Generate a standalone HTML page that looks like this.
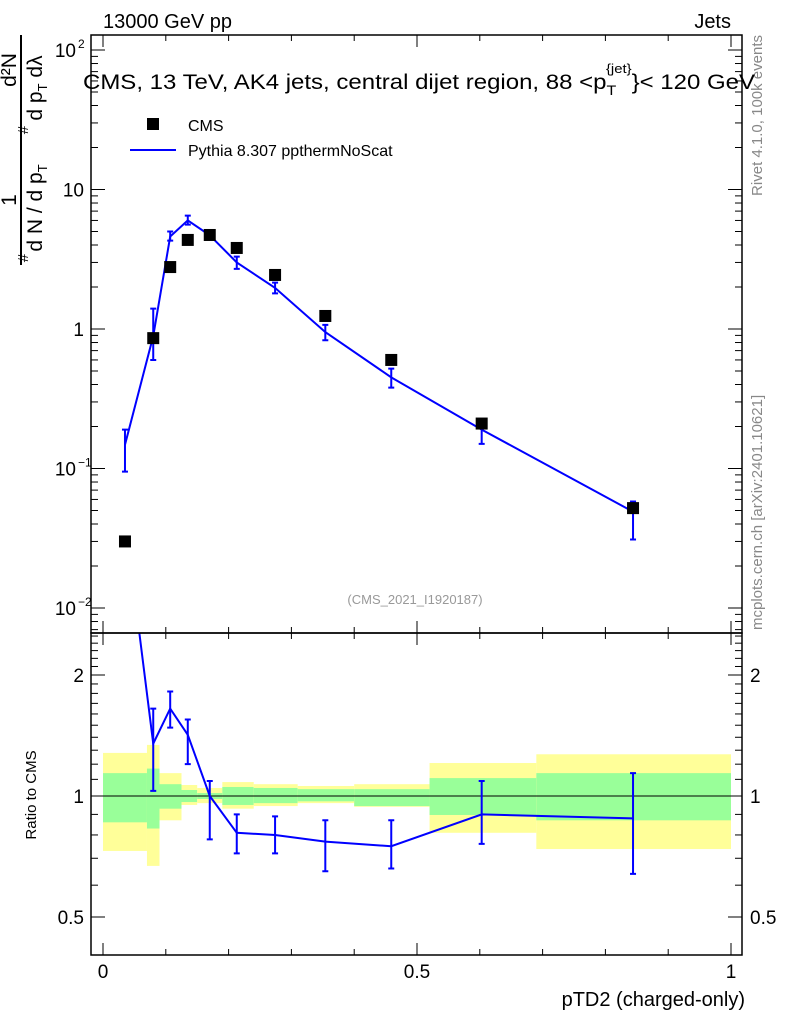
<!DOCTYPE html>
<html><head><meta charset="utf-8"><style>
body{margin:0;background:#fff}
svg{display:block;font-family:"Liberation Sans",sans-serif}
</style></head><body>
<svg id="c" width="786" height="1024" viewBox="0 0 786 1024">
<text x="103" y="28" font-size="20">13000 GeV pp</text>
<text x="731" y="28" font-size="20" text-anchor="end">Jets</text>
<g font-size="21">
<line x1="21" y1="35" x2="21" y2="265" stroke="#000" stroke-width="2"/>
<text transform="translate(16,200) rotate(-90)" text-anchor="middle">1</text>
<text transform="translate(42,208) rotate(-90)" text-anchor="middle">d N / d p<tspan font-size="13" dy="5">T</tspan></text>
<text transform="translate(28,258) rotate(-90)" text-anchor="middle" font-size="15">#</text>
<text transform="translate(16,70) rotate(-90)" text-anchor="middle">d²N</text>
<text transform="translate(42,88) rotate(-90)" text-anchor="middle">d p<tspan font-size="13" dy="5">T</tspan><tspan dy="-5"> dλ</tspan></text>
<text transform="translate(28,130) rotate(-90)" text-anchor="middle" font-size="15">#</text>
</g>
<text transform="translate(36,795) rotate(-90)" text-anchor="middle" font-size="15">Ratio to CMS</text>
<text x="745" y="1006" font-size="20" text-anchor="end">pTD2 (charged-only)</text>
<text transform="translate(762,35) rotate(-90)" text-anchor="end" font-size="15" fill="#888">Rivet 4.1.0, 100k events</text>
<text transform="translate(762,630) rotate(-90)" font-size="15" fill="#888">mcplots.cern.ch [arXiv:2401.10621]</text>
<text x="415" y="604" font-size="13" fill="#999" text-anchor="middle">(CMS_2021_I1920187)</text>
<text x="83" y="89" font-size="21" textLength="672" lengthAdjust="spacingAndGlyphs">CMS, 13 TeV, AK4 jets, central dijet region, 88 &lt;p<tspan font-size="14" dy="6">T</tspan><tspan font-size="13" dx="-9" dy="-22">{jet}</tspan><tspan dy="16">}&lt; 120 GeV</tspan></text>
<g>
<rect x="147" y="118" width="12" height="12" fill="#000"/>
<text x="188" y="131" font-size="16">CMS</text>
<line x1="130" y1="150" x2="176" y2="150" stroke="#00f" stroke-width="2"/>
<text x="188" y="156" font-size="16">Pythia 8.307 ppthermNoScat</text>
</g>
<g id="bands"></g><g id="marks"></g><g id="axes"></g>
</svg>
<script>
const xs=[0.035,0.080,0.107,0.135,0.170,0.213,0.274,0.354,0.459,0.603,0.844];
const cms=[0.030,0.86,2.78,4.35,4.72,3.81,2.44,1.24,0.60,0.21,0.052];
const mc=[0.148,0.89,4.6,6.0,4.7,3.0,1.97,0.95,0.45,0.19,0.049];
const mcHi=[0.19,1.4,5.0,6.5,5.0,3.3,2.15,1.07,0.52,0.22,0.058];
const mcLo=[0.095,0.6,4.3,5.6,4.4,2.7,1.8,0.83,0.38,0.15,0.031];
const ratio=[4.9,1.35,1.65,1.42,1.0,0.81,0.80,0.77,0.75,0.90,0.88];
const ratioHi=[5.5,1.65,1.82,1.55,1.09,0.90,0.89,0.87,0.87,1.09,1.14];
const ratioLo=[4.3,1.03,1.48,1.20,0.78,0.72,0.72,0.65,0.66,0.76,0.64];
const binEdges=[0,0.07,0.09,0.125,0.15,0.19,0.24,0.31,0.40,0.52,0.69,1.0];
const yelHi=[1.28,1.34,1.14,1.065,1.047,1.083,1.07,1.059,1.07,1.208,1.27];
const yelLo=[0.73,0.67,0.87,0.95,0.96,0.93,0.944,0.96,0.94,0.81,0.738];
const grnHi=[1.14,1.17,1.07,1.035,1.017,1.053,1.047,1.04,1.04,1.108,1.14];
const grnLo=[0.86,0.83,0.93,0.966,0.983,0.95,0.96,0.97,0.944,0.897,0.87];
const NS='http://www.w3.org/2000/svg';
const L=91,R=742,T=35,M=633,B=955;
const X=v=>103+628*v;
const Y=v=>329-139.5*Math.log10(v);
const YR=v=>796-121*Math.log2(v);
function mk(p,t,a){const e=document.createElementNS(NS,t);for(const k in a)e.setAttribute(k,a[k]);p.appendChild(e);return e;}
const bands=document.getElementById('bands'),marks=document.getElementById('marks'),axes=document.getElementById('axes');
const cl=mk(marks,'clipPath',{id:'clr'});mk(cl,'rect',{x:L,y:M,width:R-L,height:B-M});
for(let i=0;i<yelHi.length;i++){
 const x0=X(binEdges[i]),x1=X(binEdges[i+1]);
 const y=mk(bands,'rect',{x:x0,y:YR(yelHi[i]),width:x1-x0,height:YR(yelLo[i])-YR(yelHi[i]),fill:'#ffff99'});
 
 
 const g=mk(bands,'rect',{x:x0,y:YR(grnHi[i]),width:x1-x0,height:YR(grnLo[i])-YR(grnHi[i]),fill:'#99ff99'});
 
 
}
mk(bands,'line',{x1:L,x2:R,y1:YR(1),y2:YR(1),stroke:'#000','stroke-width':1});
const pl=mk(marks,'polyline',{points:xs.map((x,i)=>X(x)+','+Y(mc[i])).join(' '),fill:'none',stroke:'#00f','stroke-width':2});


xs.forEach((x,i)=>{
 const e=mk(marks,'path',{d:`M${X(x)},${Y(mcHi[i])}V${Y(mcLo[i])}M${X(x)-3},${Y(mcHi[i])}h6M${X(x)-3},${Y(mcLo[i])}h6`,stroke:'#00f','stroke-width':2,fill:'none'});
 
 
 const s=mk(marks,'rect',{x:X(x)-6,y:Y(cms[i])-6,width:12,height:12,fill:'#000'});
 
 
});
const rg=mk(marks,'g',{'clip-path':'url(#clr)'});
const rl=mk(rg,'polyline',{points:xs.map((x,i)=>X(x)+','+YR(ratio[i])).join(' '),fill:'none',stroke:'#00f','stroke-width':2});


xs.forEach((x,i)=>{
 const e=mk(rg,'path',{d:`M${X(x)},${YR(ratioHi[i])}V${YR(ratioLo[i])}M${X(x)-3},${YR(ratioHi[i])}h6M${X(x)-3},${YR(ratioLo[i])}h6`,stroke:'#00f','stroke-width':2,fill:'none'});
 
 
});
mk(axes,'rect',{x:L,y:T,width:R-L,height:M-T,fill:'none',stroke:'#000','stroke-width':1.5});
mk(axes,'rect',{x:L,y:M,width:R-L,height:B-M,fill:'none',stroke:'#000','stroke-width':1.5});
for(let v=0;v<=1.0001;v+=0.1){
 const maj=Math.abs(v*2-Math.round(v*2))<1e-6, len=maj?12:6;
 [[T,1],[M,1],[B,-1]].forEach(([y,d])=>{ if(v*628+103<R) mk(axes,'line',{x1:X(v),x2:X(v),y1:y,y2:y+d*len,stroke:'#000'});});
 mk(axes,'line',{x1:X(v),x2:X(v),y1:M,y2:M-len,stroke:'#000'});
}
const xlabs=['0','0.5','1'];
xlabs.forEach((t,i)=>{const e=mk(axes,'text',{x:X(i*0.5),y:978,'font-size':19,'text-anchor':'middle'});e.textContent=t;});
for(let d=-3;d<=2;d++)for(let k=1;k<10;k++){const v=k*Math.pow(10,d),y=Y(v);if(y<T||y>M)continue;const len=k==1?14:7;
 mk(axes,'line',{x1:L,x2:L+len,y1:y,y2:y,stroke:'#000'});mk(axes,'line',{x1:R,x2:R-len,y1:y,y2:y,stroke:'#000'});}
const ylabs=[[100,'10','2'],[10,'10',''],[1,'1',''],[0.1,'10','−1'],[0.01,'10','−2']];
ylabs.forEach(([v,b,e])=>{const t=mk(axes,'text',{x:e?76:84,y:Y(v)+7,'font-size':19,'text-anchor':'end'});t.textContent=b;
 if(e){const s=mk(axes,'text',{x:78,y:Y(v)-2,'font-size':12});s.textContent=e;}});
for(let v=0.4;v<=2.6;v+=0.1){const y=YR(v);if(y<M||y>B)continue;const maj=[0.5,1,2].some(m=>Math.abs(m-v)<1e-6);const len=maj?14:7;
 mk(axes,'line',{x1:L,x2:L+len,y1:y,y2:y,stroke:'#000'});mk(axes,'line',{x1:R,x2:R-len,y1:y,y2:y,stroke:'#000'});}
const rlabs=[2,1,0.5];
rlabs.forEach(v=>{[[84,'end'],[750,'start']].forEach(([x,a])=>{const t=mk(axes,'text',{x:x,y:YR(v)+7,'font-size':19,'text-anchor':a});t.textContent=String(v);});});
</script>
</body></html>
